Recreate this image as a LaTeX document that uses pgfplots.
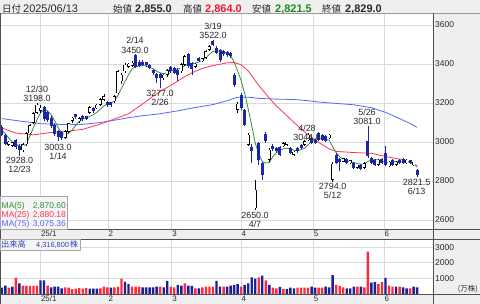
\documentclass[border=0pt]{standalone}
\usepackage{fontspec}
\setmainfont{Liberation Sans}
\newfontfamily\jp{Noto Sans CJK JP}
\usepackage{pgfplots}
\usepackage{pgfplotstable}
\pgfplotsset{compat=1.18}
\definecolor{cbg}{HTML}{EFEFEF}
\definecolor{cgrid}{HTML}{D9D9D9}
\definecolor{cdark}{HTML}{505050}
\definecolor{cnavy}{HTML}{1B27A8}
\definecolor{cvred}{HTML}{FF2A3C}
\definecolor{cvblue}{HTML}{1C2290}
\definecolor{cma5}{HTML}{3A8C3A}
\definecolor{cma25}{HTML}{FF3355}
\definecolor{cma75}{HTML}{5566FF}
\definecolor{ctext}{HTML}{2A2A2A}
\definecolor{chigh}{HTML}{F01830}
\definecolor{clow}{HTML}{1E8A1E}
\definecolor{cvlab}{HTML}{3340B0}

\pgfplotstableread{
i o h l c
2 2985 3003 2978 2998
3 2982 2998 2975 2990
6 2958 2995 2950 2988
7 2988 3050 2982 3045
8 3045 3092 3040 3087
9 3098 3155 3092 3147
10 3150 3198 3145 3190
11 3160 3188 3150 3175
18 3022 3062 3015 3055
19 3052 3100 3045 3095
20 3110 3128 3100 3122
22 3106 3130 3100 3123
25 3150 3185 3145 3179
27 3174 3196 3168 3190
28 3191 3228 3185 3220
29 3217 3245 3210 3234
32 3209 3240 3200 3234
33 3251 3370 3245 3363
34 3311 3355 3300 3346
35 3363 3405 3355 3397
36 3386 3405 3378 3396
37 3392 3415 3385 3405
46 3328 3350 3320 3344
47 3345 3372 3335 3368
51 3363 3405 3355 3400
52 3397 3448 3392 3440
55 3385 3405 3378 3397
57 3414 3432 3408 3426
58 3431 3472 3425 3466
59 3474 3498 3468 3491
67 3165 3205 3150 3195
70 2986 3045 2980 3037
72 2660 2806 2650 2755
76 2909 2968 2900 2960
80 2978 3000 2972 2994
81 2985 2998 2980 2990
83 2935 2955 2930 2950
86 2986 3010 2980 3003
87 3010 3044 3005 3037
93 3020 3042 3015 3037
94 2806 2895 2794 2888
97 2900 2912 2895 2908
99 2892 2910 2885 2905
101 2868 2882 2862 2878
103 2868 2895 2862 2892
107 2883 2912 2878 2909
110 2875 2905 2870 2900
112 2883 2905 2878 2900
115 2892 2912 2888 2909
117 2882 2898 2876 2890
}\up

\pgfplotstableread{
i o h l c
0 3078 3085 3030 3035
1 3036 3042 2985 2991
4 3010 3018 2965 2975
5 2982 2990 2928 2958
12 3180 3186 3108 3118
13 3152 3160 3105 3115
14 3125 3132 3070 3080
15 3088 3095 3030 3040
16 3058 3062 3003 3028
17 3052 3058 3010 3022
21 3135 3142 3118 3126
23 3132 3140 3110 3118
24 3128 3135 3112 3120
26 3175 3182 3150 3157
30 3205 3212 3180 3188
31 3200 3206 3182 3190
38 3446 3450 3378 3386
39 3412 3420 3384 3390
40 3410 3420 3388 3396
41 3402 3408 3385 3393
42 3396 3400 3372 3380
43 3370 3376 3345 3356
44 3348 3352 3305 3330
45 3350 3356 3277 3328
48 3383 3390 3355 3363
49 3380 3386 3350 3356
50 3371 3378 3315 3346
53 3449 3455 3380 3388
54 3405 3410 3346 3376
56 3431 3438 3408 3414
60 3508 3522 3490 3500
61 3483 3490 3450 3457
62 3470 3475 3408 3420
63 3465 3472 3440 3450
64 3462 3468 3438 3446
65 3455 3460 3430 3440
66 3346 3355 3280 3290
68 3243 3250 3165 3174
69 3166 3170 3080 3089
71 2977 2990 2892 2955
73 2994 3000 2880 2909
74 2892 2900 2806 2832
75 3040 3050 2995 3003
77 2977 2990 2955 2962
78 2968 2975 2945 2952
79 2977 2982 2930 2935
82 2968 2975 2938 2943
84 2968 2975 2945 2952
85 2985 2990 2962 2968
88 3020 3025 2988 2994
89 3010 3015 2990 2995
90 3046 3050 3005 3011
91 3035 3040 3005 3011
92 3030 3035 2998 3003
95 2934 2945 2885 2892
96 2912 2918 2850 2895
98 2915 2920 2885 2890
100 2890 2895 2860 2865
102 2882 2888 2855 2860
104 3003 3081 2920 2926
105 2917 2922 2888 2892
106 2909 2915 2878 2883
108 2912 2918 2888 2892
109 2946 2978 2875 2883
111 2909 2912 2878 2883
113 2909 2915 2888 2892
114 2912 2918 2888 2892
116 2905 2910 2885 2892
118 2855 2864 2821.5 2829
}\dn

\pgfplotstableread{
i v
2 410
4 1030
6 535
7 515
8 515
9 515
10 535
13 535
18 430
19 410
20 320
21 340
22 385
23 340
24 385
28 365
29 470
30 430
32 430
33 470
34 985
37 470
38 470
39 470
45 470
48 470
49 430
52 685
55 365
57 430
58 470
59 470
60 470
63 470
68 470
73 1070
75 880
77 410
78 365
80 320
84 410
85 410
86 410
87 410
90 410
91 410
95 580
96 515
97 430
101 470
103 430
104 2720
107 640
108 770
110 535
111 470
113 470
116 365
}\vred

\pgfplotstableread{
i v
0 410
1 535
3 470
5 685
11 880
12 880
14 430
15 470
16 470
17 365
25 340
26 340
27 340
31 410
35 790
36 640
40 430
41 430
42 430
43 430
44 470
46 430
47 835
50 580
51 535
53 535
54 515
56 365
61 835
62 470
64 470
65 535
66 580
67 640
69 580
70 685
71 1070
72 985
74 1180
76 580
79 450
81 320
82 410
83 365
88 470
89 410
92 470
93 430
94 1220
98 365
99 365
100 470
102 470
105 730
106 770
109 1030
112 470
114 430
115 365
117 470
118 432
}\vblue

\pgfplotstableread{
i v
0 3060
1 3042
2 3020
3 3000
4 2990
5 2978
6 2975
7 2995
8 3030
9 3075
10 3114
11 3150
12 3166
13 3160
14 3140
15 3110
16 3075
17 3045
18 3038
19 3045
20 3062
21 3085
22 3106
23 3118
24 3124
25 3132
26 3140
27 3152
28 3169
29 3185
30 3195
31 3200
32 3210
33 3240
34 3275
35 3310
36 3345
37 3375
38 3385
39 3390
40 3392
41 3390
42 3385
43 3375
44 3362
45 3355
46 3350
47 3355
48 3365
49 3372
50 3375
51 3380
52 3392
53 3400
54 3400
55 3405
56 3410
57 3420
58 3432
59 3450
60 3465
61 3468
62 3466
63 3462
64 3455
65 3443
66 3410
67 3365
68 3315
69 3250
70 3170
71 3085
72 2995
73 2940
74 2900
75 2892
76 2895
77 2925
78 2945
79 2958
80 2965
81 2968
82 2965
83 2958
84 2955
85 2960
86 2968
87 2985
88 3005
89 3015
90 3020
91 3018
92 3012
93 3010
94 2975
95 2945
96 2925
97 2910
98 2903
99 2898
100 2895
101 2890
102 2886
103 2888
104 2900
105 2908
106 2910
107 2908
108 2902
109 2895
110 2895
111 2898
112 2900
113 2900
114 2898
115 2900
116 2898
117 2888
118 2871
}\mafive

\pgfplotstableread{
i v
0 3072
4 3046
9 3037
14 3049
18 3054
23 3065
28 3092
32 3118
36 3145
40 3195
43 3235
45 3260
48 3290
51 3325
54 3355
57 3378
60 3392
64 3406
66 3408
68 3396
70 3365
73 3290
76 3225
78 3185
81 3135
83 3100
87 3037
90 2998
93 2965
95 2952
100 2946
105 2942
109 2926
114 2909
118 2880
}\matwentyfive

\pgfplotstableread{
i v
0 3120
5 3108
11 3094
17 3090
22 3089
28 3100
33 3115
36 3125
40 3135
45 3145
50 3160
54 3174
60 3192
64 3212
67 3230
70 3230
73 3224
78 3220
83 3218
87 3212
90 3205
95 3198
100 3191
105 3176
109 3152
113 3120
116 3095
118 3075
}\maseventyfive

\pgfplotsset{
  chartax/.style={
    scale only axis, width=433bp,
    xmin=-0.51, xmax=122.5,
    axis line style={draw=none}, tick style={draw=none}, major tick length=0pt,
    xtick={11,30.2,48.3,68,88.5,108.6},
    xticklabels={25/1,2,3,4,5,6},
    xmajorgrids, ymajorgrids,
    grid style={cgrid, line width=0.8bp},
    xticklabel style={font=\fontsize{8}{9}\selectfont, anchor=north west, inner sep=0pt, xshift=0.3bp, yshift=-1.5bp, text=ctext},
    yticklabel pos=right,
    yticklabel style={font=\fontsize{8.5}{10}\selectfont, anchor=west, inner sep=0pt, xshift=2bp, text=ctext},
  },
  wick/.style={draw=none, mark=none, error bars/.cd, y dir=plus, y explicit, error mark=none,
    error bar style={draw=#1, line width=0.75bp}},
  body/.style 2 args={draw=none, mark=none, error bars/.cd, y dir=plus, y explicit, error mark=none,
    error bar style={draw=#2, line width=#1, line cap=rect}},
}

\tikzset{
  hd/.style={inner sep=0pt, anchor=base west, font=\fontsize{11}{12}\selectfont, text=ctext},
  hj/.style={inner sep=0pt, anchor=base west, font=\jp\fontsize{9.5}{11}\selectfont, text=ctext},
  lab/.style={inner sep=0pt, anchor=base, font=\fontsize{9}{10}\selectfont, text=ctext},
  lg/.style={inner sep=0pt, font=\fontsize{8.5}{10}\selectfont},
}

\begin{document}
\begin{tikzpicture}
\useasboundingbox (0bp,0bp) rectangle (480bp,304bp);
\fill[cbg] (0bp,0bp) rectangle (480bp,304bp);
\fill[white] (0bp,74.5bp) rectangle (433bp,290.5bp);
\fill[white] (0bp,10bp) rectangle (433bp,64.5bp);

% ---------------- price panel ----------------
\begin{axis}[at={(0bp,74.5bp)}, anchor=south west, chartax, height=216bp,
  ymin=2551.4, ymax=3659.1,
  ytick={2600,2800,3000,3200,3400,3600},
  yticklabels={2600,2800,3000,3200,3400,3600}]
\addplot[cma75, line width=0.8bp] table[x=i, y=v] {\maseventyfive};
\addplot[cma25, line width=0.8bp] table[x=i, y=v] {\matwentyfive};
\addplot[cma5, line width=0.8bp] table[x=i, y=v] {\mafive};
\addplot[wick=black] table[x=i, y=l, y error plus expr=\thisrow{h}-\thisrow{l}] {\up};
\addplot[wick=cnavy] table[x=i, y=l, y error plus expr=\thisrow{h}-\thisrow{l}] {\dn};
\addplot[body={3bp}{black}] table[x=i, y expr=\thisrow{o}+7.7, y error plus expr={max(\thisrow{c}-\thisrow{o}-15.4,0.3)}] {\up};
\addplot[body={2bp}{white}] table[x=i, y expr=\thisrow{o}+7.7, y error plus expr={max(\thisrow{c}-\thisrow{o}-15.4,0.3)}] {\up};
\addplot[body={3bp}{cnavy}] table[x=i, y expr=\thisrow{c}+7.7, y error plus expr={max(\thisrow{o}-\thisrow{c}-15.4,0.3)}] {\dn};
\end{axis}

% ---------------- volume panel ----------------
\begin{axis}[at={(0bp,10bp)}, anchor=south west, chartax, height=54.5bp,
  ymin=0, ymax=3500,
  ytick={1000,2000,3000},
  yticklabels={1000,2000,3000}]
\addplot[ybar, bar width=2.4bp, bar shift=0pt, fill=cvred, draw=none] table[x=i, y=v] {\vred};
\addplot[ybar, bar width=2.4bp, bar shift=0pt, fill=cvblue, draw=none] table[x=i, y=v] {\vblue};
\end{axis}

\begin{scope}[x=1bp,y=1bp]
% ---------------- frame lines ----------------
\draw[gray!80, line width=0.8bp] (0,290.5) -- (480,290.5);
\draw[cdark, line width=1.2bp] (0,74.5) -- (480,74.5);
\draw[cdark, line width=1bp] (0,64.5) -- (480,64.5);
\draw[cdark, line width=1bp] (0,10) -- (480,10);
\draw[cdark, line width=1bp] (0.5,0) -- (0.5,290.5);
\draw[cdark, line width=1bp] (433,0) -- (433,290.5);

% ---------------- header ----------------
\node[hj] at (2,292) {日付};
\node[hd] at (23,292) {2025/06/13};
\node[hj] at (113,292) {始値};
\node[hd] at (135,292) {\bfseries 2,855.0};
\node[hj] at (183,292) {高値};
\node[hd, text=chigh] at (205,292) {\bfseries 2,864.0};
\node[hj] at (252,292) {安値};
\node[hd, text=clow] at (275,292) {\bfseries 2,821.5};
\node[hj] at (322,292) {終値};
\node[hd] at (345,292) {\bfseries 2,829.0};

% ---------------- annotations ----------------
\node[lab] at (37,211.8) {12/30};
\node[lab] at (37,202.3) {3198.0};
\node[lab] at (19.5,140.8) {2928.0};
\node[lab] at (19.5,131.3) {12/23};
\node[lab] at (58,153.8) {3003.0};
\node[lab] at (58,144.3) {1/14};
\node[lab] at (135,260.3) {2/14};
\node[lab] at (135,250.8) {3450.0};
\node[lab] at (160,207.8) {3277.0};
\node[lab] at (160,198.3) {2/26};
\node[lab] at (213,274.8) {3/19};
\node[lab] at (213,265.3) {3522.0};
\node[lab] at (307,172.8) {4/28};
\node[lab] at (307,163.8) {3044.0};
\node[lab] at (255,85.8) {2650.0};
\node[lab] at (255,76.8) {4/7};
\node[lab] at (332.7,114.8) {2794.0};
\node[lab] at (332.7,105.8) {5/12};
\node[lab] at (367,188.8) {5/26};
\node[lab] at (367,179.8) {3081.0};
\node[lab] at (416.7,118.3) {2821.5};
\node[lab] at (416.7,109.8) {6/13};

% ---------------- MA legend ----------------
\draw[fill=white!96!black, draw=gray!70, line width=0.6bp] (0,75) rectangle (67,107.5);
\node[lg, anchor=base west, text=cma5] at (1.5,95.9) {MA(5)};
\node[lg, anchor=base east, text=cma5] at (66,95.9) {2,870.60};
\node[lg, anchor=base west, text=cma25] at (1.5,86.9) {MA(25)};
\node[lg, anchor=base east, text=cma25] at (66,86.9) {2,880.18};
\node[lg, anchor=base west, text=cma75] at (1.5,77.9) {MA(75)};
\node[lg, anchor=base east, text=cma75] at (66,77.9) {3,075.36};

% ---------------- volume label ----------------
\draw[fill=white!96!black, draw=gray!70, line width=0.6bp] (0,53.8) rectangle (80,64.5);
\node[inner sep=0pt, anchor=base west, text=cvlab, font=\jp\fontsize{8.3}{9}\selectfont] at (1,56.3) {出来高};
\node[inner sep=0pt, anchor=base west, text=cvlab, font=\fontsize{7.4}{9}\selectfont] at (36,56.6) {4,316,800};
\node[inner sep=0pt, anchor=base west, text=cvlab, font=\jp\fontsize{8}{9}\selectfont] at (70,56.3) {株};
\node[inner sep=0pt, anchor=base east, text=ctext, font=\jp\fontsize{7.5}{9}\selectfont] at (478,12.5) {(万株)};
\end{scope}
\end{tikzpicture}
\end{document}
